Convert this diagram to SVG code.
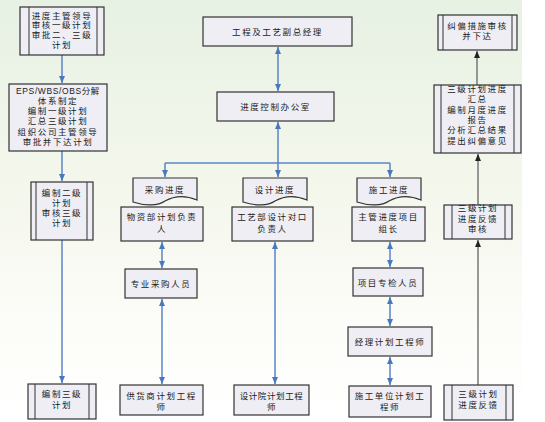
<svg xmlns="http://www.w3.org/2000/svg" width="545" height="422" viewBox="0 0 545 422">
<defs>
<linearGradient id="bg" x1="0" y1="0" x2="0" y2="1">
<stop offset="0" stop-color="#e7f1e4"/>
<stop offset="0.45" stop-color="#f4f7ec"/>
<stop offset="0.75" stop-color="#fcfcf8"/>
<stop offset="1" stop-color="#ffffff"/>
</linearGradient>
<marker id="ab" viewBox="0 0 7 6" refX="7" refY="3" markerWidth="7" markerHeight="6" markerUnits="userSpaceOnUse" orient="auto-start-reverse">
<path d="M0,0 L7,3 L0,6 z" fill="#4a78bd"/>
</marker>
<marker id="ak" viewBox="0 0 7 6" refX="7" refY="3" markerWidth="7" markerHeight="6" markerUnits="userSpaceOnUse" orient="auto-start-reverse">
<path d="M0,0 L7,3 L0,6 z" fill="#222"/>
</marker>
<path id="doc" d="M0,0 H64 V22 C50,16 39,19 32,23 C25,28 12,28 0,24 Z"/>
</defs>
<style>
.box{fill:#eeeef4;stroke:#333;stroke-width:1.2}
.in{stroke:#333;stroke-width:1}
.t{font-family:"Liberation Sans","Noto Sans CJK SC",sans-serif;font-size:8.5px;fill:#1a1a1a;text-anchor:middle;letter-spacing:1.6px}
.s{letter-spacing:0.6px}
.cb{fill:none;stroke:#5a86c6;stroke-width:1.5}
.ck{fill:none;stroke:#777;stroke-width:1.5}
</style>
<rect x="0" y="0" width="545" height="422" fill="#ffffff"/>
<rect x="0" y="0" width="522" height="422" fill="url(#bg)"/>

<g id="connectors">
<path class="cb" d="M62,55 V83" marker-end="url(#ab)"/>
<path class="cb" d="M62,151 V181" marker-end="url(#ab)"/>
<path class="cb" d="M62,240 V383" marker-end="url(#ab)"/>
<path class="cb" d="M278,47 V91" marker-start="url(#ab)" marker-end="url(#ab)"/>
<path class="cb" d="M278,122 V177" marker-start="url(#ab)" marker-end="url(#ab)"/>
<path class="cb" d="M165,163 H390"/>
<path class="cb" d="M165,163 V177" marker-end="url(#ab)"/>
<path class="cb" d="M390,163 V177" marker-end="url(#ab)"/>
<path class="cb" d="M162,242 V268" marker-start="url(#ab)" marker-end="url(#ab)"/>
<path class="cb" d="M162,299 V384" marker-start="url(#ab)" marker-end="url(#ab)"/>
<path class="cb" d="M275,242 V384" marker-start="url(#ab)" marker-end="url(#ab)"/>
<path class="cb" d="M390,242 V267" marker-start="url(#ab)" marker-end="url(#ab)"/>
<path class="cb" d="M390,297 V326" marker-start="url(#ab)" marker-end="url(#ab)"/>
<path class="cb" d="M390,357 V385" marker-start="url(#ab)" marker-end="url(#ab)"/>
<path class="ck" d="M478,385 V240" marker-end="url(#ak)"/>
<path class="ck" d="M478,205 V154" marker-end="url(#ak)"/>
<path class="ck" d="M477,85 V51" marker-end="url(#ak)"/>
</g>

<g id="n-leader">
<rect class="box" x="20" y="7" width="84" height="48"/>
<path class="in" d="M29,7 V55 M97,7 V55"/>
<text class="t" y="18.5"><tspan x="62">进度主管领导</tspan><tspan x="62" dy="9.8">审核一级计划</tspan><tspan x="62" dy="9.8">审批二、三级</tspan><tspan x="62" dy="9.8">计划</tspan></text>
</g>
<g id="n-eps">
<rect class="box" x="9" y="84" width="98" height="67"/>
<text class="t" y="93.5"><tspan x="58" class="s">EPS/WBS/OBS分解</tspan><tspan x="58" dy="10.3">体系制定</tspan><tspan x="58" dy="10.3">编制一级计划</tspan><tspan x="58" dy="10.3">汇总三级计划</tspan><tspan x="58" dy="10.3">组织公司主管领导</tspan><tspan x="58" dy="10.3">审批并下达计划</tspan></text>
</g>
<g id="n-level2">
<rect class="box" x="31" y="182" width="62" height="58"/>
<path class="in" d="M36,182 V240 M87,182 V240"/>
<text class="t" y="195.5"><tspan x="62">编制二级</tspan><tspan x="62" dy="10">计划</tspan><tspan x="62" dy="10">审核三级</tspan><tspan x="62" dy="10">计划</tspan></text>
</g>
<g id="n-level3">
<rect class="box" x="28" y="384" width="68" height="35"/>
<path class="in" d="M35,384 V419 M89,384 V419"/>
<text class="t" y="397"><tspan x="62">编制三级</tspan><tspan x="62" dy="10.5">计划</tspan></text>
</g>

<g id="n-vp">
<rect class="box" x="203" y="17" width="149" height="29"/>
<text class="t" x="277.5" y="35">工程及工艺副总经理</text>
</g>
<g id="n-office">
<rect class="box" x="217" y="92" width="117" height="29"/>
<text class="t" x="275.5" y="110">进度控制办公室</text>
</g>

<g id="d-purchase">
<use href="#doc" x="133" y="178" class="box"/>
<text class="t" x="165" y="192.5">采购进度</text>
</g>
<g id="d-design">
<use href="#doc" x="243" y="178" class="box"/>
<text class="t" x="275" y="192.5">设计进度</text>
</g>
<g id="d-build">
<use href="#doc" x="357" y="178" class="box"/>
<text class="t" x="389" y="192.5">施工进度</text>
</g>

<g id="n-material">
<rect class="box" x="121" y="207" width="82" height="34"/>
<text class="t" y="219.5"><tspan x="162">物资部计划负责</tspan><tspan x="162" dy="12.5">人</tspan></text>
</g>
<g id="n-craft">
<rect class="box" x="232" y="207" width="81" height="34"/>
<text class="t" y="219.5"><tspan x="272.5">工艺部设计对口</tspan><tspan x="272.5" dy="12.5">负责人</tspan></text>
</g>
<g id="n-pm">
<rect class="box" x="352" y="207" width="73" height="34"/>
<text class="t" y="219.5"><tspan x="388.5">主管进度项目</tspan><tspan x="388.5" dy="12.5">组长</tspan></text>
</g>

<g id="n-buyer">
<rect class="box" x="125" y="269" width="72" height="29"/>
<text class="t" x="161" y="287">专业采购人员</text>
</g>
<g id="n-inspector">
<rect class="box" x="353" y="268" width="70" height="28"/>
<text class="t" x="388" y="286">项目专检人员</text>
</g>
<g id="n-planeng">
<rect class="box" x="348" y="327" width="84" height="29"/>
<text class="t" x="390" y="345">经理计划工程师</text>
</g>

<g id="n-supplier">
<rect class="box" x="120" y="385" width="83" height="30"/>
<text class="t" y="398.5"><tspan x="161.5">供货商计划工程</tspan><tspan x="161.5" dy="11">师</tspan></text>
</g>
<g id="n-institute">
<rect class="box" x="234" y="385" width="75" height="30"/>
<text class="t s" y="398.5"><tspan x="271.5">设计院计划工程</tspan><tspan x="271.5" dy="11">师</tspan></text>
</g>
<g id="n-contractor">
<rect class="box" x="349" y="386" width="82" height="31"/>
<text class="t" y="399"><tspan x="390">施工单位计划工</tspan><tspan x="390" dy="11">程师</tspan></text>
</g>
<g id="n-feedback">
<rect class="box" x="444" y="385" width="69" height="35"/>
<path class="in" d="M452,385 V420 M506,385 V420"/>
<text class="t" y="397"><tspan x="478.5">三级计划</tspan><tspan x="478.5" dy="11">进度反馈</tspan></text>
</g>
<g id="n-review">
<rect class="box" x="444" y="205" width="68" height="34"/>
<path class="in" d="M452,205 V239 M505,205 V239"/>
<text class="t" y="211"><tspan x="478">三级计划</tspan><tspan x="478" dy="10.5">进度反馈</tspan><tspan x="478" dy="10.5">审核</tspan></text>
</g>
<g id="n-summary">
<rect class="box" x="434" y="85" width="87" height="68"/>
<path class="in" d="M441,85 V153 M514,85 V153"/>
<text class="t" y="92"><tspan x="477.5">三级计划进度</tspan><tspan x="477.5" dy="10.3">汇总</tspan><tspan x="477.5" dy="10.3">编制月度进度</tspan><tspan x="477.5" dy="10.3">报告</tspan><tspan x="477.5" dy="10.3">分析汇总结果</tspan><tspan x="477.5" dy="10.3">提出纠偏意见</tspan></text>
</g>
<g id="n-correct">
<rect class="box" x="438" y="15" width="79" height="35"/>
<path class="in" d="M443,15 V50 M512,15 V50"/>
<text class="t" y="28.5"><tspan x="477.5">纠偏措施审核</tspan><tspan x="477.5" dy="10.5">并下达</tspan></text>
</g>
</svg>
